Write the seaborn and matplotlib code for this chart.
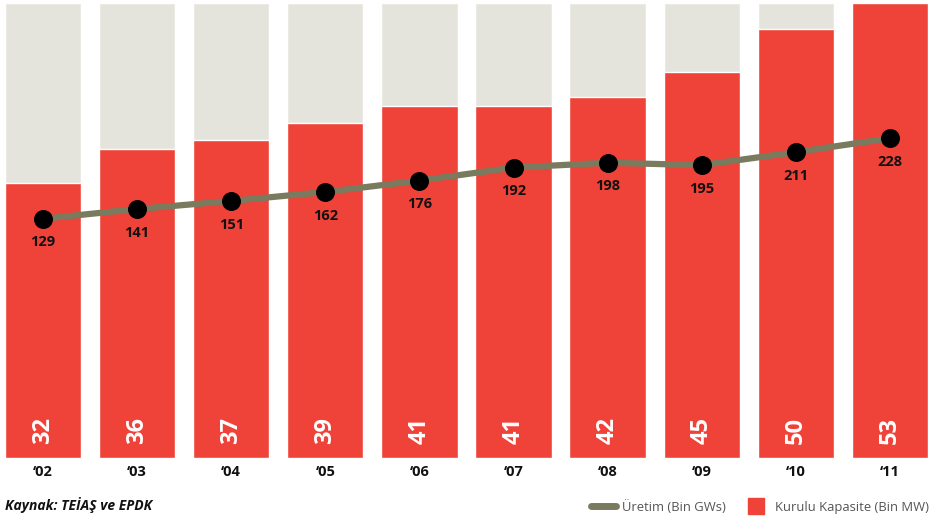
import matplotlib
matplotlib.use("Agg")
import matplotlib.pyplot as plt
from matplotlib.lines import Line2D
import seaborn as sns
import pandas as pd

years = ["‘02", "‘03", "‘04", "‘05", "‘06", "‘07", "‘08", "‘09", "‘10", "‘11"]
capacity = [32, 36, 37, 39, 41, 41, 42, 45, 50, 53]          # Kurulu Kapasite (Bin MW)
production = [129, 141, 151, 162, 176, 192, 198, 195, 211, 228]  # Üretim (Bin GWs)
capacity_max = 53

RED = "#ef4238"
GREY = "#e5e4dc"
OLIVE = "#7a7a5e"

sns.set_theme(style="white")
plt.rcParams["font.family"] = ["Open Sans", "DejaVu Sans"]

df = pd.DataFrame({"year": years, "capacity": capacity,
                   "production": production,
                   "full": [capacity_max] * len(years)})
df["pos"] = range(len(df))

fig = plt.figure(figsize=(9.33, 5.21), dpi=100)
ax = fig.add_axes([0.0, (521 - 458) / 521, 1.0, 455 / 521])

sns.barplot(data=df, x="year", y="full", color=GREY, width=0.81,
            saturation=1, ax=ax, zorder=1)
sns.barplot(data=df, x="year", y="capacity", color=RED, width=0.81,
            saturation=1, ax=ax, zorder=2)
ax.set_xlim(-0.457, 9.458)
ax.set_ylim(0, capacity_max)
ax.set_xlabel("")
ax.set_ylabel("")
ax.set_yticks([])
for s in ax.spines.values():
    s.set_visible(False)
ax.tick_params(axis="x", length=0, pad=5)
for lbl in ax.get_xticklabels():
    lbl.set_fontsize(10.5)
    lbl.set_fontweight("bold")
    lbl.set_color("#111111")

for i, v in enumerate(capacity):
    ax.text(i, 3.2, str(v), rotation=90, ha="center", va="center",
            color="white", fontsize=17, fontweight="bold", zorder=5)

ax2 = ax.twinx()
sns.lineplot(data=df, x="pos", y="production", color=OLIVE, linewidth=4.5,
             ax=ax2, zorder=3)
ax2.scatter(df["pos"], df["production"], s=160, color="black", zorder=4)
ax2.set_ylim(-165.3, 394.5)
ax2.set_xlim(-0.457, 9.458)
ax2.set_yticks([])
ax2.set_ylabel("")
ax2.set_xlabel("")
for s in ax2.spines.values():
    s.set_visible(False)
for i, v in enumerate(production):
    ax2.annotate(str(v), (i, v), xytext=(0, -17), textcoords="offset points",
                 ha="center", va="center", fontsize=10.5, fontweight="bold",
                 color="#111111", zorder=5)

fig.text(0.005, (521 - 505) / 521, "Kaynak: TEİAŞ ve EPDK",
         fontsize=10, fontweight="bold", fontstyle="italic", color="#111111",
         ha="left", va="center")

handles = [Line2D([0], [0], color=OLIVE, linewidth=5),
           Line2D([0], [0], color=RED, marker="s", markersize=12,
                  linestyle="none")]
fig.legend(handles, ["Üretim (Bin GWs)", "Kurulu Kapasite (Bin MW)"],
           loc="center right", bbox_to_anchor=(1.008, (521 - 507) / 521),
           ncol=2, frameon=False, fontsize=9.4, handlelength=1.9,
           columnspacing=1.4, handletextpad=0.45,
           labelcolor="#555555")

fig.savefig("out.png", dpi=100)
